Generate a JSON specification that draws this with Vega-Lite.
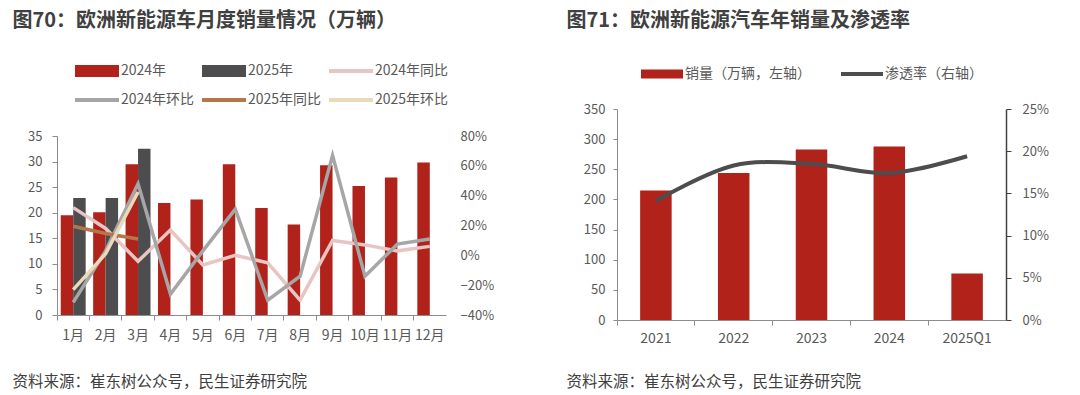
{
  "$schema": "https://vega.github.io/schema/vega-lite/v6.json",
  "background": "white",
  "padding": {"left": 12, "top": 10, "right": 0, "bottom": 0},
  "spacing": 72,
  "config": {
    "font": "Noto Sans CJK SC",
    "view": {"stroke": null},
    "axis": {"labelFont": "Noto Sans CJK SC", "labelColor": "#595959", "labelFontSize": 13, "grid": false, "domainColor": "#8C8C8C", "tickColor": "#8C8C8C"}
  },
  "datasets": {
    "bars70": [
      {"month": "1月", "series": "2024年", "value": 19.5},
      {"month": "2月", "series": "2024年", "value": 20.1},
      {"month": "3月", "series": "2024年", "value": 29.5},
      {"month": "4月", "series": "2024年", "value": 21.9},
      {"month": "5月", "series": "2024年", "value": 22.6},
      {"month": "6月", "series": "2024年", "value": 29.5},
      {"month": "7月", "series": "2024年", "value": 20.9},
      {"month": "8月", "series": "2024年", "value": 17.7},
      {"month": "9月", "series": "2024年", "value": 29.3},
      {"month": "10月", "series": "2024年", "value": 25.2},
      {"month": "11月", "series": "2024年", "value": 26.9},
      {"month": "12月", "series": "2024年", "value": 29.8},
      {"month": "1月", "series": "2025年", "value": 22.9},
      {"month": "2月", "series": "2025年", "value": 22.9},
      {"month": "3月", "series": "2025年", "value": 32.5}
    ],
    "lines70": [
      {"month": "1月", "series": "2024年同比", "pct": 0.32},
      {"month": "2月", "series": "2024年同比", "pct": 0.18},
      {"month": "3月", "series": "2024年同比", "pct": -0.04},
      {"month": "4月", "series": "2024年同比", "pct": 0.17},
      {"month": "5月", "series": "2024年同比", "pct": -0.065},
      {"month": "6月", "series": "2024年同比", "pct": 0.0},
      {"month": "7月", "series": "2024年同比", "pct": -0.05},
      {"month": "8月", "series": "2024年同比", "pct": -0.30},
      {"month": "9月", "series": "2024年同比", "pct": 0.10},
      {"month": "10月", "series": "2024年同比", "pct": 0.07},
      {"month": "11月", "series": "2024年同比", "pct": 0.03},
      {"month": "12月", "series": "2024年同比", "pct": 0.06},
      {"month": "1月", "series": "2024年环比", "pct": -0.315},
      {"month": "2月", "series": "2024年环比", "pct": 0.03},
      {"month": "3月", "series": "2024年环比", "pct": 0.48},
      {"month": "4月", "series": "2024年环比", "pct": -0.26},
      {"month": "5月", "series": "2024年环比", "pct": 0.03},
      {"month": "6月", "series": "2024年环比", "pct": 0.31},
      {"month": "7月", "series": "2024年环比", "pct": -0.30},
      {"month": "8月", "series": "2024年环比", "pct": -0.14},
      {"month": "9月", "series": "2024年环比", "pct": 0.67},
      {"month": "10月", "series": "2024年环比", "pct": -0.14},
      {"month": "11月", "series": "2024年环比", "pct": 0.075},
      {"month": "12月", "series": "2024年环比", "pct": 0.11},
      {"month": "1月", "series": "2025年同比", "pct": 0.195},
      {"month": "2月", "series": "2025年同比", "pct": 0.146},
      {"month": "3月", "series": "2025年同比", "pct": 0.11},
      {"month": "1月", "series": "2025年环比", "pct": -0.23},
      {"month": "2月", "series": "2025年环比", "pct": 0.01},
      {"month": "3月", "series": "2025年环比", "pct": 0.425}
    ],
    "bars71": [
      {"year": "2021", "series": "销量（万辆，左轴）", "sales": 215},
      {"year": "2022", "series": "销量（万辆，左轴）", "sales": 244},
      {"year": "2023", "series": "销量（万辆，左轴）", "sales": 283},
      {"year": "2024", "series": "销量（万辆，左轴）", "sales": 288},
      {"year": "2025Q1", "series": "销量（万辆，左轴）", "sales": 77}
    ],
    "line71": [
      {"year": "2021", "series": "渗透率（右轴）", "rate": 0.141},
      {"year": "2022", "series": "渗透率（右轴）", "rate": 0.183},
      {"year": "2023", "series": "渗透率（右轴）", "rate": 0.185},
      {"year": "2024", "series": "渗透率（右轴）", "rate": 0.174},
      {"year": "2025Q1", "series": "渗透率（右轴）", "rate": 0.194}
    ]
  },
  "hconcat": [
    {
      "width": 389,
      "height": 206,
      "layer": [
        {
          "data": {"name": "bars70"},
          "mark": {"type": "bar"},
          "encoding": {
            "x": {
              "field": "month", "type": "ordinal",
              "sort": ["1月","2月","3月","4月","5月","6月","7月","8月","9月","10月","11月","12月"],
              "scale": {"paddingInner": 0, "paddingOuter": 0},
              "axis": {
                "labelAngle": 0, "bandPosition": 0, "tickSize": 5, "labelPadding": 8, "labelFontSize": 14,
                "title": "资料来源：崔东树公众号，民生证券研究院",
                "titleX": -45, "titleY": 66, "titleAlign": "left", "titleBaseline": "middle",
                "titleFontSize": 15.5, "titleFontWeight": "normal", "titleColor": "#404040"
              }
            },
            "xOffset": {"field": "series", "type": "nominal", "scale": {"domain": ["2024年", "2025年"], "paddingInner": 0, "paddingOuter": 0.3}},
            "y": {
              "field": "value", "type": "quantitative",
              "scale": {"domain": [0, 35], "nice": false, "range": [206, 27]},
              "axis": {
                "values": [0, 5, 10, 15, 20, 25, 30, 35], "tickSize": 5, "labelPadding": 10,
                "title": "图70：欧洲新能源车月度销量情况（万辆）",
                "titleAngle": 0, "titleX": -45, "titleY": -89, "titleAlign": "left", "titleBaseline": "middle",
                "titleFontSize": 20, "titleFontWeight": "bold", "titleColor": "#404040"
              }
            },
            "color": {
              "field": "series", "type": "nominal",
              "scale": {
                "domain": ["2024年", "2025年", "2024年同比", "2024年环比", "2025年同比", "2025年环比"],
                "range": ["#B0221A", "#4D4D4F", "#E8C5C3", "#A6A6A6", "#B5764A", "#E9DBBA"]
              },
              "legend": {
                "orient": "none", "legendX": 18, "legendY": -60, "direction": "horizontal", "columns": 3,
                "title": null, "padding": 0, "symbolSize": 1936, "symbolStrokeWidth": 0,
                "labelFontSize": 14, "labelColor": "#595959", "labelOffset": 2, "columnPadding": 7, "rowPadding": -3,
                "encode": {
                  "symbols": {
                    "update": {
                      "shape": {"signal": "datum.value == '2024年' || datum.value == '2025年' ? 'M-1,-0.27H1V0.27H-1Z' : 'M-1,-0.09H1V0.09H-1Z'"},
                      "fill": {"signal": "datum.value == '2024年' ? '#B0221A' : datum.value == '2025年' ? '#4D4D4F' : datum.value == '2024年同比' ? '#E8C5C3' : datum.value == '2024年环比' ? '#A6A6A6' : datum.value == '2025年同比' ? '#B5764A' : '#E9DBBA'"},
                      "strokeWidth": {"value": 0},
                      "opacity": {"value": 1}
                    }
                  }
                }
              }
            }
          }
        },
        {
          "data": {"name": "lines70"},
          "mark": {"type": "line", "strokeWidth": 3.5},
          "encoding": {
            "x": {"field": "month", "type": "ordinal", "sort": ["1月","2月","3月","4月","5月","6月","7月","8月","9月","10月","11月","12月"]},
            "y": {
              "field": "pct", "type": "quantitative",
              "scale": {"domain": [-0.4, 0.8], "nice": false, "range": [206, 27]},
              "axis": {"orient": "right", "values": [-0.4, -0.2, 0, 0.2, 0.4, 0.6, 0.8], "format": ".0%", "domain": false, "ticks": false, "labelPadding": 14, "title": null}
            },
            "color": {"field": "series", "type": "nominal"}
          }
        }
      ],
      "resolve": {"scale": {"y": "independent"}}
    },
    {
      "width": 389,
      "height": 211,
      "layer": [
        {
          "data": {"name": "bars71"},
          "mark": {"type": "bar", "width": {"band": 0.405}},
          "encoding": {
            "x": {
              "field": "year", "type": "ordinal", "sort": ["2021","2022","2023","2024","2025Q1"],
              "scale": {"paddingInner": 0, "paddingOuter": 0},
              "axis": {
                "labelAngle": 0, "bandPosition": 0, "tickSize": 5, "labelPadding": 6, "labelFontSize": 14,
                "title": "资料来源：崔东树公众号，民生证券研究院",
                "titleX": -51, "titleY": 61, "titleAlign": "left", "titleBaseline": "middle",
                "titleFontSize": 15.5, "titleFontWeight": "normal", "titleColor": "#404040"
              }
            },
            "y": {
              "field": "sales", "type": "quantitative",
              "scale": {"domain": [0, 350], "nice": false},
              "axis": {
                "values": [0, 50, 100, 150, 200, 250, 300, 350], "tickSize": 4, "labelPadding": 8,
                "title": "图71：欧洲新能源汽车年销量及渗透率",
                "titleAngle": 0, "titleX": -51, "titleY": -89, "titleAlign": "left", "titleBaseline": "middle",
                "titleFontSize": 20, "titleFontWeight": "bold", "titleColor": "#404040"
              }
            },
            "color": {
              "field": "series", "type": "nominal",
              "scale": {"domain": ["销量（万辆，左轴）", "渗透率（右轴）"], "range": ["#B0221A", "#4D4D4F"]},
              "legend": {
                "orient": "none", "legendX": 24, "legendY": -56, "direction": "horizontal", "columns": 2,
                "title": null, "padding": 0, "symbolSize": 1764, "symbolStrokeWidth": 0,
                "labelFontSize": 14, "labelColor": "#595959", "labelOffset": 2, "columnPadding": 30,
                "encode": {
                  "symbols": {
                    "update": {
                      "shape": {"signal": "datum.value == '渗透率（右轴）' ? 'M-1,-0.095H1V0.095H-1Z' : 'M-1,-0.21H1V0.21H-1Z'"},
                      "fill": {"signal": "datum.value == '渗透率（右轴）' ? '#4D4D4F' : '#B0221A'"},
                      "strokeWidth": {"value": 0},
                      "opacity": {"value": 1}
                    }
                  }
                }
              }
            }
          }
        },
        {
          "data": {"name": "line71"},
          "mark": {"type": "line", "interpolate": "catmull-rom", "strokeWidth": 4},
          "encoding": {
            "x": {"field": "year", "type": "ordinal", "sort": ["2021","2022","2023","2024","2025Q1"]},
            "y": {
              "field": "rate", "type": "quantitative",
              "scale": {"domain": [0, 0.25], "nice": false},
              "axis": {"orient": "right", "values": [0, 0.05, 0.1, 0.15, 0.2, 0.25], "format": ".0%", "tickSize": 5, "labelPadding": 11, "domainColor": "#404040", "tickColor": "#404040", "domainWidth": 1.5, "title": null}
            },
            "color": {"field": "series", "type": "nominal"}
          }
        }
      ],
      "resolve": {"scale": {"y": "independent"}}
    }
  ],
  "resolve": {"scale": {"color": "independent"}, "legend": {"color": "independent"}}
}
